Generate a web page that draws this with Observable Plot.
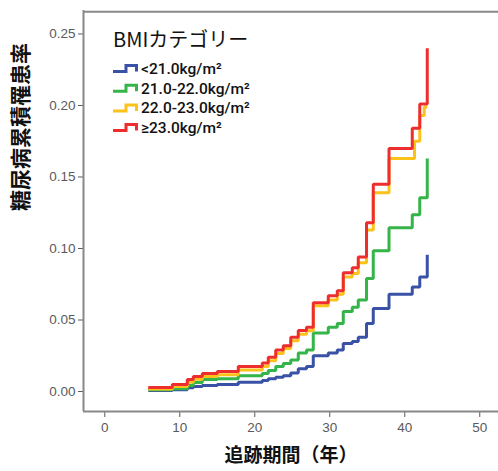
<!DOCTYPE html>
<html><head><meta charset="utf-8">
<script src="https://cdn.jsdelivr.net/npm/d3@7"></script>
<script src="https://cdn.jsdelivr.net/npm/@observablehq/plot@0.6"></script>
<style>body{margin:0;background:#fff;overflow:hidden}</style>
</head><body><div id="chart"></div>
<script>
const seriesNames = ["<21.0kg/m²", "21.0-22.0kg/m²", "22.0-23.0kg/m²", "≥23.0kg/m²"];
const seriesColors = ["#3a52a6", "#35b449", "#fcc21a", "#ee2e2e"];
const legendTitle = "BMIカテゴリー";
const xTitle = "追跡期間（年）";
const yTitle = "糖尿病累積罹患率";
const xTicks = [0, 10, 20, 30, 40, 50];
const yTicks = [0, 0.05, 0.10, 0.15, 0.20, 0.25];

const stepTimes = [5.8, 9, 11, 11.8, 13, 15, 17.8, 21, 21.8, 22.8, 23.8, 24.8, 25.8, 26.9, 27.8, 29.8, 31, 31.8, 33, 33.8, 34.9, 35.8, 37.9, 41, 42, 43];
const timesYellow = [5.8, 9, 11, 11.8, 13, 15, 17.8, 21, 21.8, 22.8, 23.8, 24.8, 25.8, 26.9, 27.8, 29.8, 31, 31.8, 33, 33.8, 34.9, 35.8, 37.9, 41.3, 42, 42.6, 43];

const valuesBlue = [0.0007, 0.0012, 0.0026, 0.0035, 0.0042, 0.0049, 0.0065, 0.0077, 0.009, 0.010, 0.011, 0.013, 0.016, 0.0175, 0.025, 0.027, 0.029, 0.0335, 0.035, 0.038, 0.0475, 0.058, 0.068, 0.073, 0.080, 0.0957];
const valuesGreen = [0.0012, 0.002, 0.0042, 0.0063, 0.0084, 0.009, 0.011, 0.0126, 0.0147, 0.0175, 0.0196, 0.022, 0.027, 0.029, 0.041, 0.045, 0.0475, 0.056, 0.059, 0.064, 0.079, 0.0985, 0.1145, 0.1236, 0.1355, 0.163];
const valuesYellow = [0.0018, 0.0035, 0.0065, 0.0085, 0.0105, 0.0118, 0.015, 0.0175, 0.0215, 0.0265, 0.030, 0.0355, 0.040, 0.0425, 0.060, 0.064, 0.068, 0.080, 0.0825, 0.090, 0.113, 0.139, 0.163, 0.175, 0.193, 0.199, 0.199];
const valuesRed = [0.0028, 0.0049, 0.0084, 0.0105, 0.0126, 0.014, 0.0175, 0.020, 0.024, 0.029, 0.032, 0.038, 0.0426, 0.045, 0.062, 0.067, 0.0705, 0.083, 0.0866, 0.094, 0.118, 0.145, 0.170, 0.184, 0.201, 0.240];

const seriesTimes = [stepTimes, stepTimes, timesYellow, stepTimes];
const seriesValues = [valuesBlue, valuesGreen, valuesYellow, valuesRed];

const data = seriesNames.map((name, i) => seriesTimes[i].map((t, j) => ({series: name, t, v: seriesValues[i][j]})));

const W = 498, H = 471;
const mL = 83, mT = 10, mB = 60, mR = 0;
const xDomain = [-2.84, 52.5];
const yDomain = [-0.01397, 0.2664];

function legendMark() {
  const g = d3.create("svg:g").attr("text-anchor", "start");
  const x0 = mL + 30;
  g.append("text").attr("x", x0).attr("y", 47).attr("text-anchor", "start")
    .attr("font-family", "'Noto Sans CJK JP', 'Noto Sans', sans-serif")
    .attr("font-size", 20).attr("fill", "#111").text(legendTitle);
  seriesNames.forEach((name, i) => {
    const cy = 68.5 + i * 19.7;
    g.append("path")
      .attr("d", `M${x0},${cy + 3}H${x0 + 13}V${cy - 3}H${x0 + 23.5}V${cy + 3}`)
      .attr("fill", "none").attr("stroke", seriesColors[i]).attr("stroke-width", 3);
    g.append("text").attr("x", x0 + 28).attr("y", cy).attr("dy", "0.36em").attr("text-anchor", "start")
      .attr("font-family", "Roboto, 'Noto Sans', sans-serif").attr("font-weight", 500)
      .attr("font-size", 15.5).attr("fill", "#111").text(name);
  });
  return g.node();
}

const lineMarks = data.map((d, i) => Plot.line(d, {
  x: "t", y: "v", stroke: seriesColors[i], strokeWidth: 3,
  curve: "step-after", strokeLinejoin: "miter", strokeLinecap: "butt"
}));

const chart = Plot.plot({
  width: W, height: H,
  marginLeft: mL, marginTop: mT, marginBottom: mB, marginRight: mR,
  style: {background: "white", fontFamily: "'Liberation Sans', Arial, sans-serif", fontSize: "13.5px", color: "#5a5a5a", overflow: "visible"},
  x: {domain: xDomain, ticks: xTicks, tickSize: 6, tickPadding: 5, label: null},
  y: {domain: yDomain, ticks: yTicks, tickFormat: d3.format(".2f"), tickSize: 5, tickPadding: 3, label: null},
  marks: [
    ...lineMarks,
    Plot.ruleX([xDomain[0]], {stroke: "#888", strokeWidth: 2}),
    Plot.ruleY([yDomain[0]], {stroke: "#888", strokeWidth: 2}),
    Plot.ruleY([yDomain[1] - 0.0008], {stroke: "#888", strokeWidth: 2}),
    Plot.text([yTitle], {frameAnchor: "left", dx: -62, rotate: -90, fontSize: 21, fontWeight: 600, fill: "#111", fontFamily: "'Noto Sans CJK JP', sans-serif"}),
    Plot.text([xTitle], {frameAnchor: "bottom", dy: 50, fontSize: 19, fontWeight: 600, fill: "#111", fontFamily: "'Noto Sans CJK JP', sans-serif"}),
    legendMark
  ]
});
document.getElementById("chart").appendChild(chart);
</script>
</body></html>
